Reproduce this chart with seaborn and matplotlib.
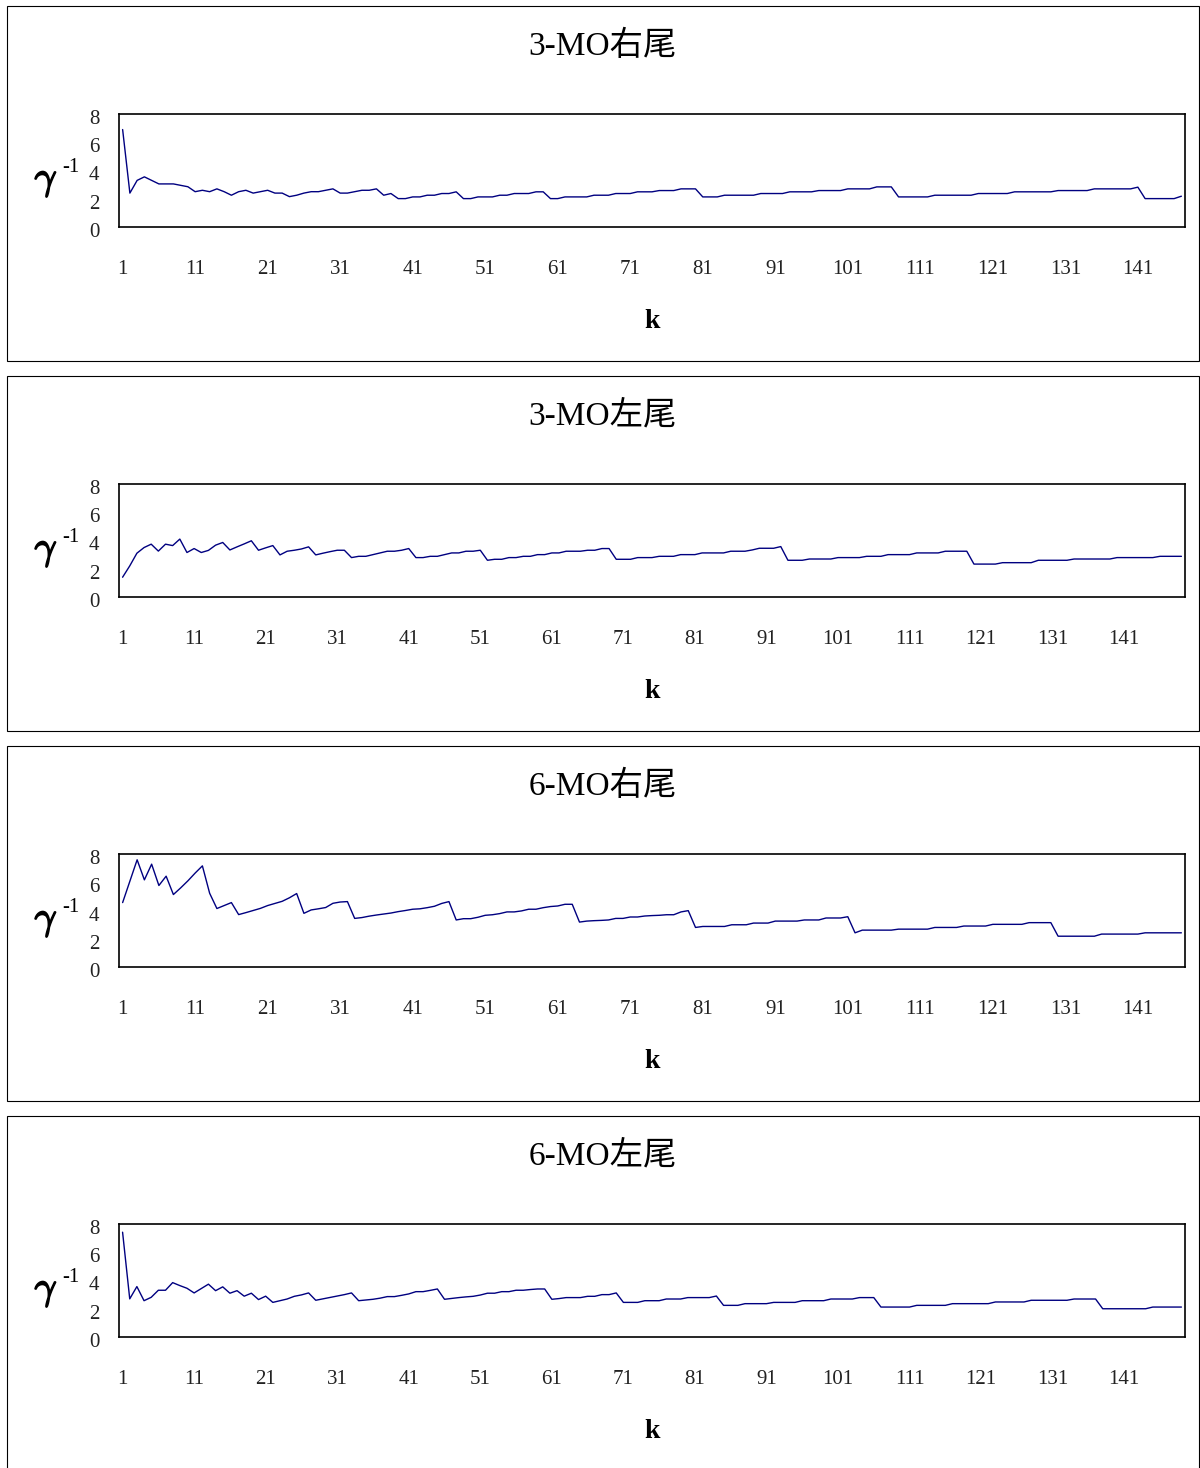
"""Hill-type tail index estimates (gamma^-1 vs k) for 3-MO and 6-MO, right and left tails."""

import matplotlib.patheffects as pe
import matplotlib.pyplot as plt
import matplotlib.transforms as mtransforms
import numpy as np
import pandas as pd
import seaborn as sns
from matplotlib.patches import Rectangle

titles = ["3-MO右尾", "3-MO左尾", "6-MO右尾", "6-MO左尾"]

mo3_right = [
    6.9, 2.4, 3.3, 3.55, 3.3, 3.05, 3.05, 3.05, 2.95, 2.85,
    2.5, 2.6, 2.5, 2.7, 2.5, 2.25, 2.5, 2.6, 2.4, 2.5,
    2.6, 2.4, 2.4, 2.15, 2.25, 2.4, 2.5, 2.5, 2.6, 2.7,
    2.4, 2.4, 2.5, 2.6, 2.6, 2.7, 2.25, 2.37, 2.01, 2.01,
    2.13, 2.13, 2.25, 2.25, 2.37, 2.37, 2.49, 2.01, 2.01, 2.13,
    2.13, 2.13, 2.25, 2.25, 2.37, 2.37, 2.37, 2.49, 2.49, 2.01,
    2.01, 2.13, 2.13, 2.13, 2.13, 2.25, 2.25, 2.25, 2.37, 2.37,
    2.37, 2.49, 2.49, 2.49, 2.58, 2.58, 2.58, 2.70, 2.70, 2.70,
    2.13, 2.13, 2.13, 2.25, 2.25, 2.25, 2.25, 2.25, 2.37, 2.37,
    2.37, 2.37, 2.49, 2.49, 2.49, 2.49, 2.58, 2.58, 2.58, 2.58,
    2.70, 2.70, 2.70, 2.70, 2.84, 2.84, 2.84, 2.13, 2.13, 2.13,
    2.13, 2.13, 2.25, 2.25, 2.25, 2.25, 2.25, 2.25, 2.37, 2.37,
    2.37, 2.37, 2.37, 2.49, 2.49, 2.49, 2.49, 2.49, 2.49, 2.58,
    2.58, 2.58, 2.58, 2.58, 2.70, 2.70, 2.70, 2.70, 2.70, 2.70,
    2.82, 2.01, 2.01, 2.01, 2.01, 2.01, 2.18,
]

mo3_left = [
    1.4, 2.2, 3.1, 3.5, 3.74, 3.25, 3.74, 3.64, 4.1, 3.15,
    3.43, 3.15, 3.3, 3.67, 3.86, 3.33, 3.55, 3.76, 3.98, 3.31,
    3.48, 3.64, 2.98, 3.24, 3.31, 3.4, 3.55, 2.98, 3.1, 3.21,
    3.31, 3.31, 2.79, 2.88, 2.88, 3.0, 3.12, 3.24, 3.24, 3.31,
    3.43, 2.79, 2.79, 2.88, 2.88, 3.0, 3.12, 3.12, 3.24, 3.24,
    3.31, 2.6, 2.67, 2.67, 2.79, 2.79, 2.88, 2.88, 3.0, 3.0,
    3.12, 3.12, 3.24, 3.24, 3.24, 3.31, 3.31, 3.43, 3.43, 2.67,
    2.67, 2.67, 2.79, 2.79, 2.79, 2.88, 2.88, 2.88, 3.0, 3.0,
    3.0, 3.12, 3.12, 3.12, 3.12, 3.24, 3.24, 3.24, 3.33, 3.45,
    3.45, 3.45, 3.57, 2.6, 2.6, 2.6, 2.69, 2.69, 2.69, 2.69,
    2.79, 2.79, 2.79, 2.79, 2.88, 2.88, 2.88, 3.0, 3.0, 3.0,
    3.0, 3.12, 3.12, 3.12, 3.12, 3.24, 3.24, 3.24, 3.24, 2.33,
    2.33, 2.33, 2.33, 2.43, 2.43, 2.43, 2.43, 2.43, 2.6, 2.6,
    2.6, 2.6, 2.6, 2.69, 2.69, 2.69, 2.69, 2.69, 2.69, 2.79,
    2.79, 2.79, 2.79, 2.79, 2.79, 2.88, 2.88, 2.88, 2.88,
]

mo6_right = [
    4.56, 6.07, 7.59, 6.17, 7.28, 5.77, 6.43, 5.13, 5.6, 6.1,
    6.65, 7.16, 5.22, 4.14, 4.35, 4.56, 3.71, 3.85, 4.0, 4.15,
    4.35, 4.5, 4.65, 4.9, 5.2, 3.8, 4.04, 4.12, 4.21, 4.51,
    4.6, 4.63, 3.44, 3.5, 3.6, 3.68, 3.75, 3.82, 3.92, 4.0,
    4.09, 4.12, 4.2, 4.3, 4.5, 4.63, 3.33, 3.42, 3.42, 3.52,
    3.66, 3.7, 3.78, 3.9, 3.9, 3.97, 4.09, 4.09, 4.2, 4.28,
    4.32, 4.44, 4.44, 3.18, 3.25, 3.28, 3.3, 3.33, 3.44, 3.44,
    3.54, 3.54, 3.61, 3.64, 3.66, 3.7, 3.7, 3.9, 3.99, 2.8,
    2.87, 2.87, 2.87, 2.87, 2.99, 2.99, 2.99, 3.11, 3.11, 3.11,
    3.25, 3.25, 3.25, 3.25, 3.33, 3.33, 3.33, 3.47, 3.47, 3.47,
    3.56, 2.42, 2.61, 2.61, 2.61, 2.61, 2.61, 2.68, 2.68, 2.68,
    2.68, 2.68, 2.8, 2.8, 2.8, 2.8, 2.9, 2.9, 2.9, 2.9,
    3.02, 3.02, 3.02, 3.02, 3.02, 3.14, 3.14, 3.14, 3.14, 2.18,
    2.18, 2.18, 2.18, 2.18, 2.18, 2.33, 2.33, 2.33, 2.33, 2.33,
    2.33, 2.42, 2.42, 2.42, 2.42, 2.42, 2.42,
]

mo6_left = [
    7.42, 2.7, 3.57, 2.57, 2.81, 3.31, 3.31, 3.85, 3.64, 3.45,
    3.12, 3.43, 3.74, 3.28, 3.55, 3.1, 3.28, 2.89, 3.1, 2.65,
    2.89, 2.45, 2.57, 2.69, 2.88, 2.98, 3.12, 2.6, 2.7, 2.8,
    2.9, 3.0, 3.12, 2.57, 2.62, 2.67, 2.75, 2.86, 2.86, 2.95,
    3.05, 3.21, 3.21, 3.3, 3.4, 2.67, 2.73, 2.79, 2.84, 2.88,
    2.97, 3.1, 3.1, 3.21, 3.21, 3.31, 3.31, 3.36, 3.4, 3.4,
    2.67, 2.72, 2.79, 2.79, 2.79, 2.88, 2.88, 3.0, 3.0, 3.12,
    2.45, 2.45, 2.45, 2.57, 2.57, 2.57, 2.69, 2.69, 2.69, 2.79,
    2.79, 2.79, 2.79, 2.9, 2.24, 2.24, 2.24, 2.36, 2.36, 2.36,
    2.36, 2.45, 2.45, 2.45, 2.45, 2.57, 2.57, 2.57, 2.57, 2.69,
    2.69, 2.69, 2.69, 2.79, 2.79, 2.79, 2.12, 2.12, 2.12, 2.12,
    2.12, 2.24, 2.24, 2.24, 2.24, 2.24, 2.36, 2.36, 2.36, 2.36,
    2.36, 2.36, 2.48, 2.48, 2.48, 2.48, 2.48, 2.6, 2.6, 2.6,
    2.6, 2.6, 2.6, 2.69, 2.69, 2.69, 2.69, 2.0, 2.0, 2.0,
    2.0, 2.0, 2.0, 2.0, 2.12, 2.12, 2.12, 2.12, 2.12,
]

series = [mo3_right, mo3_left, mo6_right, mo6_left]
y_ticks = [0, 2, 4, 6, 8]

sns.set_style("white")
plt.rcParams["font.family"] = ["Liberation Serif", "Noto Sans CJK TC"]
plt.rcParams["text.color"] = "black"
plt.rcParams["mathtext.fontset"] = "cm"

W, H = 1200, 1468
fig = plt.figure(figsize=(W / 100, H / 100), dpi=100)
label_shift = mtransforms.ScaledTranslation(0, -3 / 100, fig.dpi_scale_trans)

for j, (title, vals) in enumerate(zip(titles, series)):
    off = 370 * j
    n = len(vals)
    df = pd.DataFrame({"k": np.arange(1, n + 1), "g": vals})

    # outer frame of each chart
    fig.add_artist(Rectangle((7 / W, 1 - (361 + off) / H), 1192 / W, 355 / H,
                             transform=fig.transFigure, fill=False,
                             edgecolor="black", linewidth=0.8))

    ax = fig.add_axes([119 / W, 1 - (227 + off) / H, 1066 / W, 113 / H])
    sns.lineplot(data=df, x="k", y="g", ax=ax, color="#000080", linewidth=1.0)
    ax.set_xlim(0.5, n + 0.5)
    ax.set_ylim(0, 8)
    ax.set_xticks(np.arange(1, n + 1, 10))
    ax.set_yticks(y_ticks)
    ax.set_xlabel("")
    ax.set_ylabel("")
    ax.tick_params(axis="both", length=0, labelsize=15, colors="#222222")
    ax.tick_params(axis="x", pad=24)
    ax.tick_params(axis="y", pad=14)
    for lab in ax.get_yticklabels():
        lab.set_transform(lab.get_transform() + label_shift)
    for s in ax.spines.values():
        s.set_color("black")
        s.set_linewidth(1.2)

    fig.text(603 / W, 1 - (46 + off) / H, title, ha="center", va="center", fontsize=24)
    fig.text(652 / W, 1 - (321 + off) / H, "k", ha="center", va="center",
             fontsize=20, fontweight="bold")
    fig.text(46 / W, 1 - (181 + off) / H, r"$\gamma$", ha="center", va="center",
             fontsize=28, path_effects=[pe.withStroke(linewidth=1.2, foreground="black")])
    fig.text(71 / W, 1 - (168 + off) / H, "-1", ha="center", va="center", fontsize=15)

fig.savefig("out.png", dpi=100)
